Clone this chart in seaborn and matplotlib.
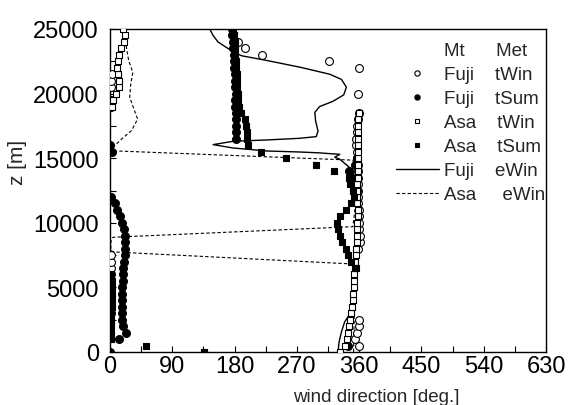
import matplotlib
matplotlib.use("Agg")
import matplotlib.pyplot as plt
from matplotlib.lines import Line2D
from matplotlib.ticker import MultipleLocator
import seaborn as sns

# ---- observed profiles: height z [m] and wind direction [deg] ----
fuji_twin_z = [500, 1000, 1500, 2000, 2500, 3000, 3500, 4000, 4500, 5000,
               5500, 6000, 6500, 7000, 7500, 8000, 8500, 9000, 9500, 10000,
               10500, 11000, 11500, 12000, 12500, 13000, 13500, 14000, 14500,
               15000, 15500, 16000, 16500, 17000, 17500, 18000, 18500, 19000,
               19500, 20000, 20500, 21000, 21500, 22000, 22500, 23000, 23500,
               24000]
fuji_twin_deg = [359.8, 354.6, 357, 359.5, 359.8, 1, 1, 1, 1, 1,
                 1, 1.5, 2, 2, 1.5, 358, 361, 361, 360, 360,
                 360.5, 360, 359, 358, 358, 358.5, 359, 358.5, 358,
                 357, 356.5, 356, 356, 356.5, 357.5, 358.5, 359.8, 1,
                 1, 358.4, 2, 1.5, 2.5, 359.4, 316.5, 219, 194.7,
                 184.5]

fuji_tsum_z = [0, 500, 1000, 1500, 2000, 2500, 3000, 3500, 4000, 4500,
               5000, 5500, 6000, 6500, 7000, 7500, 8000, 8500, 9000, 9500,
               10000, 10500, 11000, 11500, 12000, 12500, 13000, 13500, 14000,
               14500, 15000, 15500, 16000, 16500, 17000, 17500, 18000, 18500,
               19000, 19500, 20000, 20500, 21000, 21500, 22000, 22500, 23000,
               23500, 24000, 24500, 25000]
fuji_tsum_deg = [0, 344, 12.6, 22.7, 18.8, 18, 18, 18, 18, 18,
                 18, 18.5, 18.5, 19, 20, 21, 22, 21.5, 21, 19.8,
                 17.4, 14, 10.7, 6.8, 2, 357, 354, 350, 345.4,
                 354, 357, 3, 0.5, 182.5, 182, 182.5, 182, 181.5,
                 181, 181, 181.5, 181, 180.5, 180, 179.5, 179, 178.5,
                 178, 177.5, 177, 176.5]

asa_twin_z = [0, 500, 1000, 1500, 2000, 2500, 3000, 3500, 4000, 4500,
              5000, 5500, 6000, 6500, 7000, 7500, 8000, 8500, 9000, 9500,
              10000, 10500, 11000, 11500, 12000, 12500, 13000, 13500, 14000,
              14500, 15000, 15500, 16000, 16500, 17000, 17500, 18000, 18500,
              19000, 19500, 20000, 20500, 21000, 21500, 22000, 22500, 23000,
              23500, 24000, 24500, 25000]
asa_twin_deg = [333, 339, 342, 344, 346, 347, 348.5, 350, 350.5, 351,
                352, 352.5, 353, 353.5, 354, 355, 356, 357, 357, 357.5,
                357.5, 358, 358, 357.5, 357, 357, 357.5, 358, 358,
                358, 358.5, 358.5, 358, 358, 358, 358.5, 359, 359.5,
                2.9, 4.3, 8.2, 12.6, 12.6, 11.7, 10.2, 11.7, 13.1,
                16.5, 19.8, 21.2, 18.8]

asa_tsum_z = [0, 500, 1000, 1500, 2000, 2500, 3000, 3500, 4000, 4500,
              5000, 5500, 6000, 6500, 7000, 7500, 8000, 8500, 9000, 9500,
              10000, 10500, 11000, 11500, 12000, 12500, 13000, 13500, 14000,
              14500, 15000, 15500, 16000, 16500, 17000, 17500, 18000, 18500,
              19000, 19500, 20000, 20500, 21000, 21500, 22000, 22500, 23000,
              23500, 24000, 24500, 25000]
asa_tsum_deg = [135.4, 52.6, 2, 1.5, 1.5, 2, 2, 2.5, 2.5, 2.5,
                2.5, 2.5, 2, 355, 348, 344, 340.6, 335.8, 332, 329.5,
                328, 332, 341.6, 348.8, 352.6, 351, 347, 345, 323,
                297, 255, 218.8, 199.5, 198.5, 198, 197, 195.7, 190,
                186, 185, 184.5, 184, 183.5, 183, 182.5, 182, 181,
                180.5, 180, 179, 178]

# ---- estimated profiles (winter) ----
fuji_ewin_z = [0, 770, 1550, 2320, 2940, 3300, 4500, 6000, 8000, 10000,
               12000, 13500, 14160, 14940, 15070, 15300, 15420, 15480, 15560,
               15790, 16050, 16310, 16410, 16540, 16670, 17100, 17900, 18550,
               19000, 19400, 19900, 20500, 21100, 21500, 22050, 22570, 22930,
               23300, 24000, 24500, 25000]
fuji_ewin_deg = [329.5, 331, 334.4, 339, 346.4, 351, 354, 355.5, 356.5, 357,
                 356, 354, 348.8, 331.5, 324.7, 332, 300, 274, 226,
                 178, 149, 178, 226, 274, 298, 300.6, 297, 296,
                 303, 322, 337.7, 341.6, 334.4, 317.5, 274, 226, 190,
                 176, 156, 149, 144]

asa_ewin_z = [0, 3000, 6000, 6810, 7740, 7840, 8615, 8880, 9700, 12000,
              14000, 14850, 15580, 15840, 16490, 17130, 18030, 18290, 19710,
              20740, 21650, 22550, 23600, 25000]
asa_ewin_deg = [352, 353, 355, 351.7, 7, 1, 1.5, 4.3, 351, 356,
                356, 351, 0, 4.3, 16.9, 31, 40, 38, 28.5,
                30, 33, 27, 23.7, 21]

x_ticks = [0, 90, 180, 270, 360, 450, 540, 630]
y_ticks = [0, 5000, 10000, 15000, 20000, 25000]

legend_labels = ["Mt      Met", "Fuji    tWin", "Fuji    tSum", "Asa    tWin",
                 "Asa    tSum", "Fuji    eWin", "Asa     eWin"]

sns.set_style("ticks")
plt.rcParams['font.family'] = ['Liberation Sans', 'DejaVu Sans']

fig = plt.figure(figsize=(5.68, 4.06), dpi=100)
ax = fig.add_axes([110 / 568, 53 / 406, 436 / 568, 323 / 406])

# model curves
sns.lineplot(x=fuji_ewin_deg, y=fuji_ewin_z, sort=False, estimator=None,
             color="black", lw=1.0, ax=ax, zorder=2)
sns.lineplot(x=asa_ewin_deg, y=asa_ewin_z, sort=False, estimator=None,
             color="black", lw=0.8, linestyle=(0, (3, 2)), ax=ax, zorder=2)

# sounding points
sns.scatterplot(x=fuji_twin_deg, y=fuji_twin_z, marker="o", s=32,
                color="white", edgecolor="black", linewidth=0.8, ax=ax, zorder=3)
sns.scatterplot(x=fuji_tsum_deg, y=fuji_tsum_z, marker="o", s=32,
                color="black", edgecolor="black", linewidth=0.8, ax=ax, zorder=3)
sns.scatterplot(x=asa_twin_deg, y=asa_twin_z, marker="s", s=20,
                color="white", edgecolor="black", linewidth=0.8, ax=ax, zorder=4)
sns.scatterplot(x=asa_tsum_deg, y=asa_tsum_z, marker="s", s=20,
                color="black", edgecolor="black", linewidth=0.8, ax=ax, zorder=4)

ax.set_xlim(0, 630)
ax.set_ylim(0, 25000)
ax.set_xticks(x_ticks)
ax.set_yticks(y_ticks)
ax.xaxis.set_minor_locator(MultipleLocator(45))
ax.yaxis.set_minor_locator(MultipleLocator(2500))
ax.tick_params(which="both", direction="in", length=4, width=0.8,
               top=False, right=False, colors="black")
ax.tick_params(axis="x", which="major", labelsize=17, pad=2)
ax.tick_params(axis="y", which="major", labelsize=17, pad=8)
for sp in ax.spines.values():
    sp.set_visible(True)
    sp.set_color("black")
    sp.set_linewidth(1.0)

ax.set_xlabel("wind direction [deg.]", fontsize=13.5)
ax.set_ylabel("z [m]", fontsize=15)
ax.xaxis.set_label_coords(0.61, -0.11)
ax.yaxis.set_label_coords(-0.19, 0.59)

handles = [
    Line2D([], [], ls="none", marker=None),
    Line2D([], [], ls="none", marker="o", ms=3.8, mfc="white", mec="black", mew=0.8),
    Line2D([], [], ls="none", marker="o", ms=3.8, mfc="black", mec="black", mew=0.8),
    Line2D([], [], ls="none", marker="s", ms=3.2, mfc="white", mec="black", mew=0.8),
    Line2D([], [], ls="none", marker="s", ms=3.2, mfc="black", mec="black", mew=0.8),
    Line2D([], [], color="black", lw=1.0),
    Line2D([], [], color="black", lw=0.8, ls=(0, (3, 2))),
]
ax.legend(handles, legend_labels, loc="upper left", bbox_to_anchor=(0.655, 0.96),
          frameon=False, fontsize=13.5, handlelength=2.3, handletextpad=0.3,
          labelspacing=0.37, borderaxespad=0, borderpad=0)

fig.savefig("out.png", dpi=100)
